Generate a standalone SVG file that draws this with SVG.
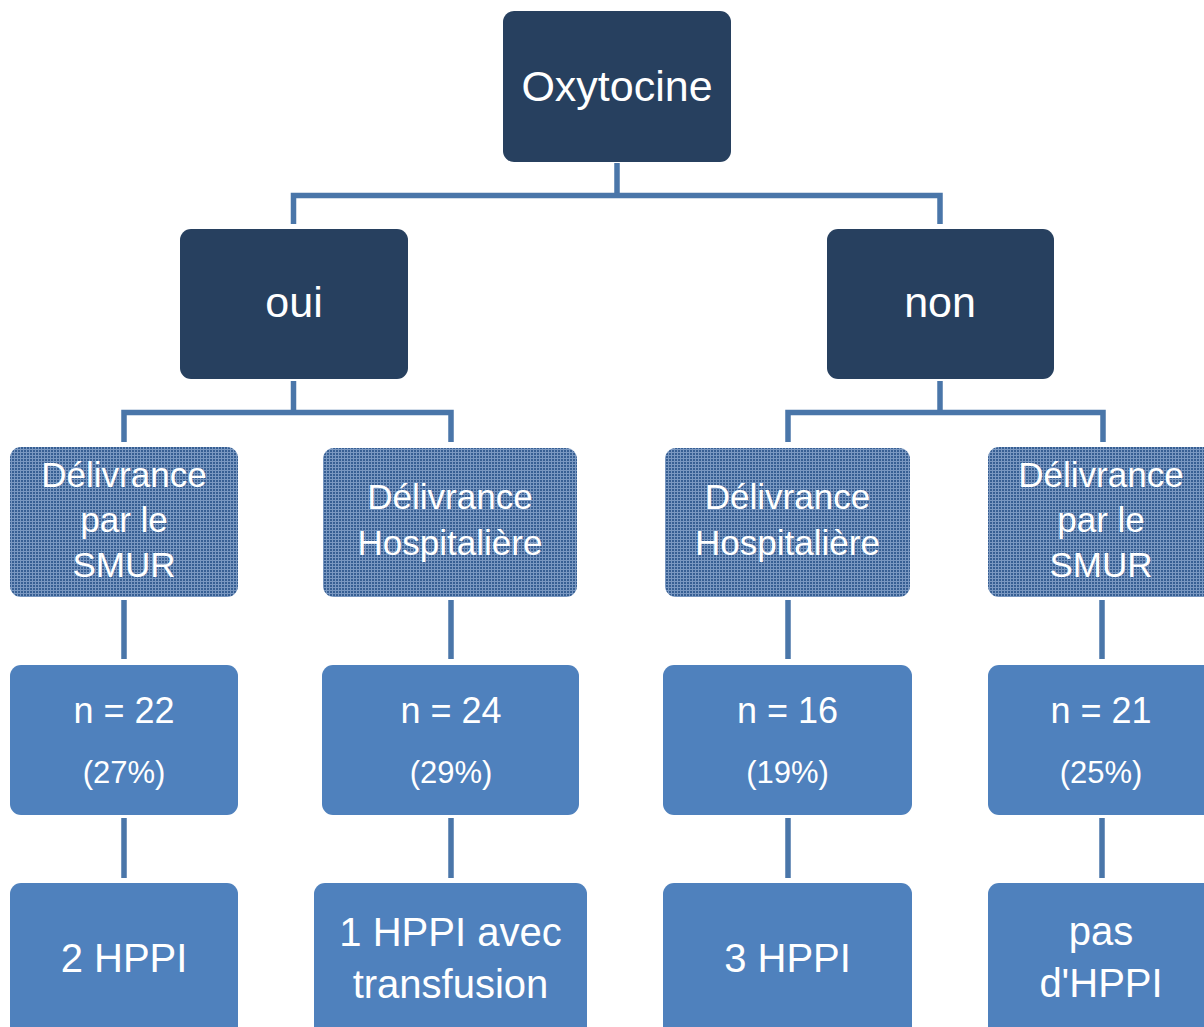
<svg xmlns="http://www.w3.org/2000/svg" width="1204" height="1027" viewBox="0 0 1204 1027">
  <style>
    .dark { fill: #27405f; }
    .mid { fill: #4f81bd; }
    .tex { fill: url(#grid); }
    .conn { fill: none; stroke: #4a76a9; stroke-width: 5.5; stroke-linejoin: miter; }
    text { font-family: "Liberation Sans", Arial, sans-serif; fill: #ffffff; text-anchor: middle; }
    .t1 { font-size: 43px; }
    .t3 { font-size: 35px; }
    .t4a { font-size: 36px; }
    .t4b { font-size: 31px; }
    .t5 { font-size: 40px; }
  </style>
  <defs>
    <pattern id="grid" x="0" y="0" width="3" height="3" patternUnits="userSpaceOnUse">
      <rect x="0" y="0" width="3" height="3" fill="#7a98c1"/>
      <rect x="0" y="0" width="2" height="2" fill="#375f93"/>
    </pattern>
  </defs>
  <rect width="1204" height="1027" fill="#ffffff"/>

  <g id="connectors">
    <path class="conn" d="M617,163 V195.5"/>
    <path class="conn" d="M293.5,224 V195.5 H940 V224"/>
    <path class="conn" d="M293.5,381 V412.5"/>
    <path class="conn" d="M124,442 V412.5 H451 V442"/>
    <path class="conn" d="M940,381 V412.5"/>
    <path class="conn" d="M788,442 V412.5 H1103 V442"/>
    <path class="conn" d="M124,600 V659 M124,818 V878"/>
    <path class="conn" d="M451,600 V659 M451,818 V878"/>
    <path class="conn" d="M788,600 V659 M788,818 V878"/>
    <path class="conn" d="M1102,600 V659 M1102,818 V878"/>
  </g>

  <g id="node-oxytocine">
    <rect class="dark" x="503" y="11" width="228" height="151" rx="11"/>
    <text class="t1" x="617" y="101">Oxytocine</text>
  </g>
  <g id="node-oui">
    <rect class="dark" x="180" y="229" width="228" height="150" rx="11"/>
    <text class="t1" x="294" y="317">oui</text>
  </g>
  <g id="node-non">
    <rect class="dark" x="827" y="229" width="227" height="150" rx="11"/>
    <text class="t1" x="940" y="317">non</text>
  </g>

  <g id="node-smur-oui">
    <rect class="tex" x="10" y="447" width="228" height="150" rx="11"/>
    <text class="t3" x="124" y="487">Délivrance</text>
    <text class="t3" x="124" y="532">par le</text>
    <text class="t3" x="124" y="577">SMUR</text>
  </g>
  <g id="node-hosp-oui">
    <rect class="tex" x="323" y="448" width="254" height="149" rx="11"/>
    <text class="t3" x="450" y="509">Délivrance</text>
    <text class="t3" x="450" y="555">Hospitalière</text>
  </g>
  <g id="node-hosp-non">
    <rect class="tex" x="665" y="448" width="245" height="149" rx="11"/>
    <text class="t3" x="787.5" y="509">Délivrance</text>
    <text class="t3" x="787.5" y="555">Hospitalière</text>
  </g>
  <g id="node-smur-non">
    <rect class="tex" x="988" y="447" width="230" height="150" rx="11"/>
    <text class="t3" x="1101" y="487">Délivrance</text>
    <text class="t3" x="1101" y="532">par le</text>
    <text class="t3" x="1101" y="577">SMUR</text>
  </g>

  <g id="node-n22">
    <rect class="mid" x="10" y="665" width="228" height="150" rx="11"/>
    <text class="t4a" x="124" y="723">n = 22</text>
    <text class="t4b" x="124" y="783">(27%)</text>
  </g>
  <g id="node-n24">
    <rect class="mid" x="322" y="665" width="257" height="150" rx="11"/>
    <text class="t4a" x="451" y="723">n = 24</text>
    <text class="t4b" x="451" y="783">(29%)</text>
  </g>
  <g id="node-n16">
    <rect class="mid" x="663" y="665" width="249" height="150" rx="11"/>
    <text class="t4a" x="787.5" y="723">n = 16</text>
    <text class="t4b" x="787.5" y="783">(19%)</text>
  </g>
  <g id="node-n21">
    <rect class="mid" x="988" y="665" width="230" height="150" rx="11"/>
    <text class="t4a" x="1101" y="723">n = 21</text>
    <text class="t4b" x="1101" y="783">(25%)</text>
  </g>

  <g id="node-2hppi">
    <rect class="mid" x="10" y="883" width="228" height="155" rx="11"/>
    <text class="t5" x="124" y="972">2 HPPI</text>
  </g>
  <g id="node-1hppi">
    <rect class="mid" x="314" y="883" width="273" height="155" rx="11"/>
    <text class="t5" x="450.5" y="946">1 HPPI avec</text>
    <text class="t5" x="450.5" y="998">transfusion</text>
  </g>
  <g id="node-3hppi">
    <rect class="mid" x="663" y="883" width="249" height="155" rx="11"/>
    <text class="t5" x="787.5" y="972">3 HPPI</text>
  </g>
  <g id="node-pas">
    <rect class="mid" x="988" y="883" width="230" height="155" rx="11"/>
    <text class="t5" x="1101" y="945">pas</text>
    <text class="t5" x="1101" y="997">d'HPPI</text>
  </g>
</svg>
